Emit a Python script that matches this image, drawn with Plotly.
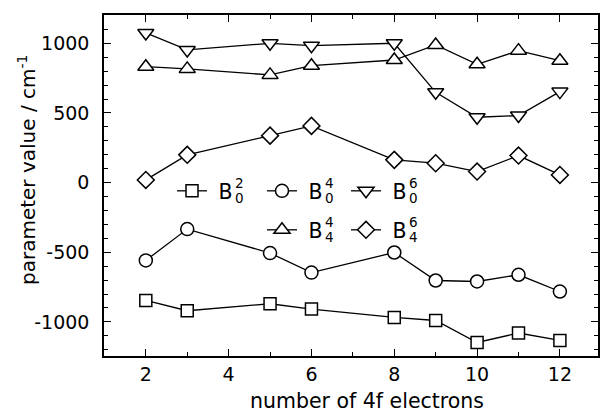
import plotly.graph_objects as go

x_vals = [2, 3, 5, 6, 8, 9, 10, 11, 12]
B02 = [-846, -920, -870, -908, -968, -990, -1148, -1080, -1133]
B04 = [-559, -334, -506, -646, -502, -703, -710, -662, -782]
B06 = [1074, 952, 1000, 983, 1000, 648, 469, 481, 653]
B44 = [832, 816, 773, 839, 880, 988, 849, 947, 875]
B46 = [19, 199, 337, 407, 163, 139, 79, 194, 55]

x_tickvals = [2, 4, 6, 8, 10, 12]
y_tickvals = [-1000, -500, 0, 500, 1000]
y_ticktext = ["-1000", "-500", "0", "500", "1000"]

# (subscript, superscript) index labels for each parameter B_k^q
labels = [("0", "2"), ("0", "4"), ("0", "6"), ("4", "4"), ("4", "6")]
series_vals = [B02, B04, B06, B44, B46]
symbols = ["square", "circle", "triangle-down", "triangle-up", "diamond"]
sizes = [12, 13, 14, 14, 13]
legend_ids = ["legend", "legend2", "legend3", "legend4", "legend5"]

FONT = "DejaVu Sans, sans-serif"
W, H = 600, 413
ML, MR, MT, MB = 104, 2, 15, 57
PW, PH = W - ML - MR, H - MT - MB


def px2paper(px, py):
    return (px - ML) / PW, (H - MB - py) / PH


fig = go.Figure()
for (sub, sup), vals, sym, sz, lg in zip(labels, series_vals, symbols, sizes, legend_ids):
    fig.add_trace(go.Scatter(
        x=x_vals, y=vals, name="\u00a0B", mode="lines+markers",
        line=dict(color="black", width=1.3),
        marker=dict(symbol=sym, size=sz, color="white", line=dict(width=1.5, color="black")),
        legend=lg,
    ))

axis_common = dict(
    showline=True, linecolor="black", linewidth=1.5, mirror="allticks",
    ticks="inside", ticklen=7, tickwidth=1.3, tickcolor="black",
    showgrid=False, zeroline=False, automargin=False,
    tickfont=dict(family=FONT, size=19, color="black"),
)
fig.update_xaxes(
    range=[0.99, 12.92], tickvals=x_tickvals,
    minor=dict(dtick=1, tick0=0, ticks="inside", ticklen=4, tickwidth=1.2, tickcolor="black"),
    ticklabelstandoff=0,
    **axis_common,
)
fig.update_yaxes(
    range=[-1245, 1203], tickvals=y_tickvals, ticktext=y_ticktext,
    minor=dict(dtick=100, tick0=0, ticks="inside", ticklen=4, tickwidth=1.2, tickcolor="black"),
    ticklabelstandoff=9,
    **axis_common,
)

# legend entries: marker centres (px) in the reference
legend_marker_px = [(189, 191), (279, 191), (363, 191), (279, 230), (363, 230)]
legends = {}
anns = []
for (sub, sup), lg, (mx, my) in zip(labels, legend_ids, legend_marker_px):
    lx, ly = px2paper(mx - 17, my)
    legends[lg] = dict(
        x=lx, y=ly, xanchor="left", yanchor="middle", orientation="h",
        bgcolor="rgba(0,0,0,0)", borderwidth=0, itemclick=False,
        font=dict(family=FONT, size=20.5, color="black"),
    )
    for txt, dy in ((sup, -8), (sub, 7)):
        ax, ay = px2paper(mx + 44, my + dy)
        anns.append(dict(
            text=txt, xref="paper", yref="paper", x=ax, y=ay,
            xanchor="left", yanchor="middle", showarrow=False,
            font=dict(family=FONT, size=13.5, color="black"),
        ))

# axis titles
tx, ty = px2paper(367, 401)
anns.append(dict(
    text="number of 4f electrons", xref="paper", yref="paper", x=tx, y=ty,
    xanchor="center", yanchor="middle", showarrow=False,
    font=dict(family=FONT, size=20.5, color="black"),
))
yx, yy = px2paper(27, 170)
anns.append(dict(
    text="parameter value / cm<sup>-1</sup>", xref="paper", yref="paper", x=yx, y=yy,
    xanchor="center", yanchor="middle", showarrow=False, textangle=-90,
    font=dict(family=FONT, size=20, color="black"),
))

fig.update_layout(
    width=W, height=H,
    margin=dict(l=ML, r=MR, t=MT, b=MB),
    paper_bgcolor="white", plot_bgcolor="white",
    showlegend=True,
    annotations=anns,
    **legends,
)
fig.write_html("out.html")
